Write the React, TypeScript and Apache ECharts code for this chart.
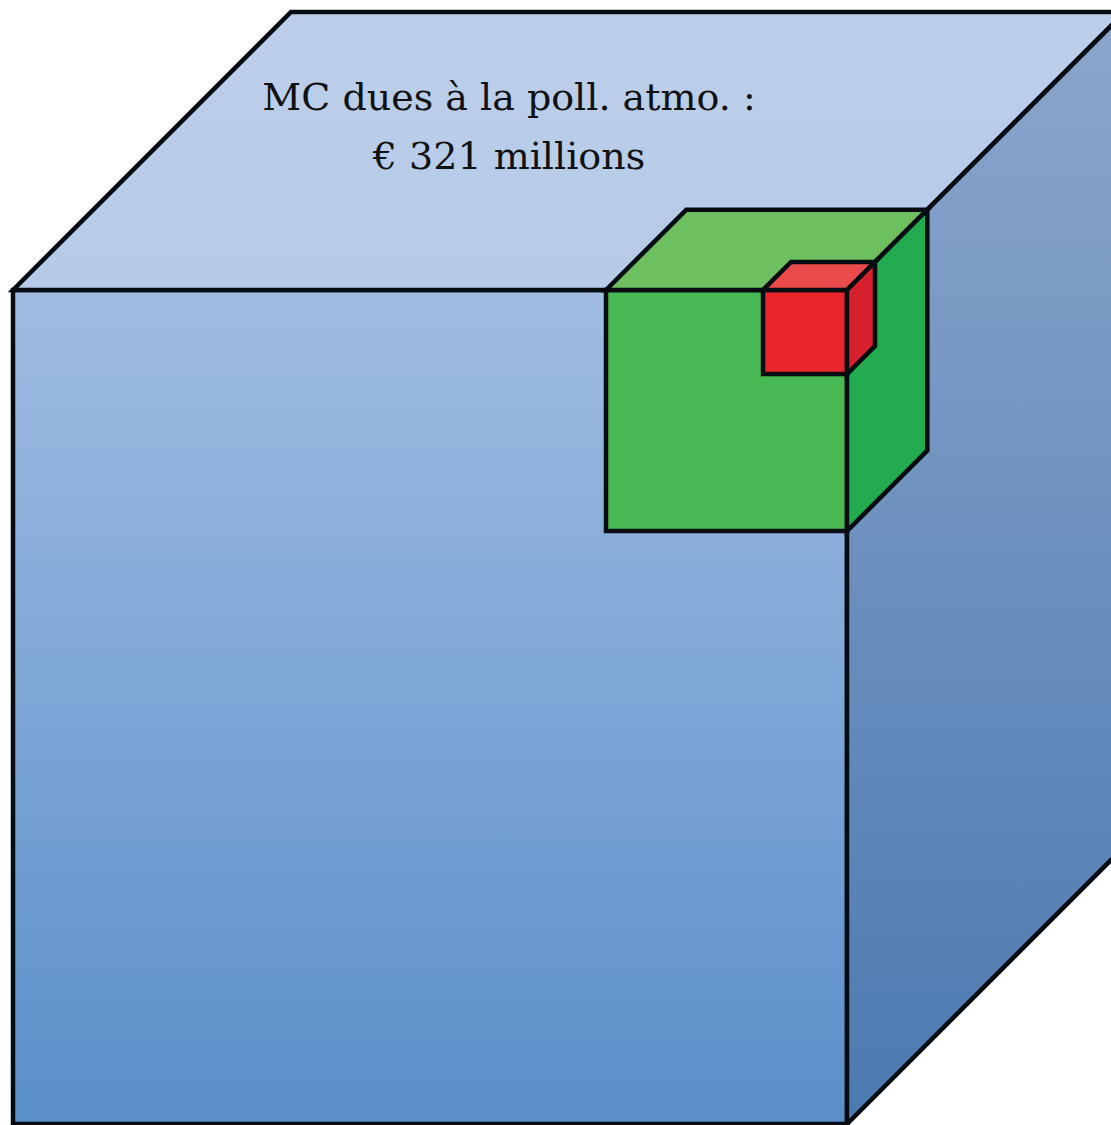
import React, { useEffect, useRef } from "react";
import * as echarts from "echarts";

// Cube edge lengths (chart units) — large: total damage, green & red: nested subsets
const cubeNames = ["Total", "Vert", "Rouge"];
const cubeEdges = [834, 241, 84];
const titleLines = ["MC dues à la poll. atmo. :", "€ 321 millions"];

const faceColors = [
  { front: ["#a0bce2", "#5a8fc9"], top: ["#bccfea", "#b5cbe8"], right: ["#8ca6cc", "#4b7ab0"] },
  { front: ["#48b853", "#48b853"], top: ["#6dbf5f", "#6dbf5f"], right: ["#22ab4f", "#22ab4f"] },
  { front: ["#e9262b", "#e9262b"], top: ["#eb4b4b", "#eb4b4b"], right: ["#d6202e", "#d6202e"] },
];

const W = 1111;
const H = 1125;
const CORNER_X = 847; // shared front-top-right corner
const CORNER_Y = 290;
const DEPTH = 1 / 3;

function grad(c: string[]) {
  return new echarts.graphic.LinearGradient(0, 0, 0, 1, [
    { offset: 0, color: c[0] },
    { offset: 1, color: c[1] },
  ]);
}

export default function App() {
  const ref = useRef<HTMLDivElement>(null);
  useEffect(() => {
    if (!ref.current) return;
    const chart = echarts.init(ref.current, null, { renderer: "svg" });
    const data = cubeEdges.map((e, i) => ({ name: cubeNames[i], value: [CORNER_X, CORNER_Y, e, i] }));
    chart.setOption({
      animation: false,
      grid: { left: 0, right: 0, top: 0, bottom: 0 },
      xAxis: { type: "value", min: 0, max: W, show: false },
      yAxis: { type: "value", min: 0, max: H, inverse: true, show: false },
      series: [
        {
          type: "custom",
          clip: false,
          data,
          renderItem: (params: any, api: any) => {
            const cx = api.value(0);
            const cy = api.value(1);
            const e = api.value(2);
            const idx = api.value(3);
            const d = e * DEPTH;
            const x0 = cx - e, x1 = cx, y0 = cy, y1 = cy + e;
            const P = (x: number, y: number) => api.coord([x, y]);
            const col = faceColors[idx];
            const stroke = { stroke: "#070b12", lineWidth: 4.5, lineJoin: "miter" };
            return {
              type: "group",
              children: [
                {
                  type: "polygon",
                  shape: { points: [P(x0, y0), P(x1, y0), P(x1, y1), P(x0, y1)] },
                  style: { fill: grad(col.front), ...stroke },
                },
                {
                  type: "polygon",
                  shape: { points: [P(x0, y0), P(x0 + d, y0 - d), P(x1 + d, y0 - d), P(x1, y0)] },
                  style: { fill: grad(col.top), ...stroke },
                },
                {
                  type: "polygon",
                  shape: { points: [P(x1, y0), P(x1 + d, y0 - d), P(x1 + d, y1 - d), P(x1, y1)] },
                  style: { fill: grad(col.right), ...stroke },
                },
              ],
            };
          },
        },
      ],
      graphic: titleLines.map((t, i) => ({
        type: "text",
        z: 100,
        x: 509,
        y: 97 + i * 59,
        style: {
          text: t,
          fill: "#111111",
          fontSize: 38,
          fontFamily: "DejaVu Serif",
          align: "center",
          verticalAlign: "middle",
        },
      })),
    });
    return () => chart.dispose();
  }, []);
  return (
    <div
      ref={ref}
      style={{ position: "fixed", left: 0, top: 0, width: W, height: H, background: "#ffffff" }}
    />
  );
}
